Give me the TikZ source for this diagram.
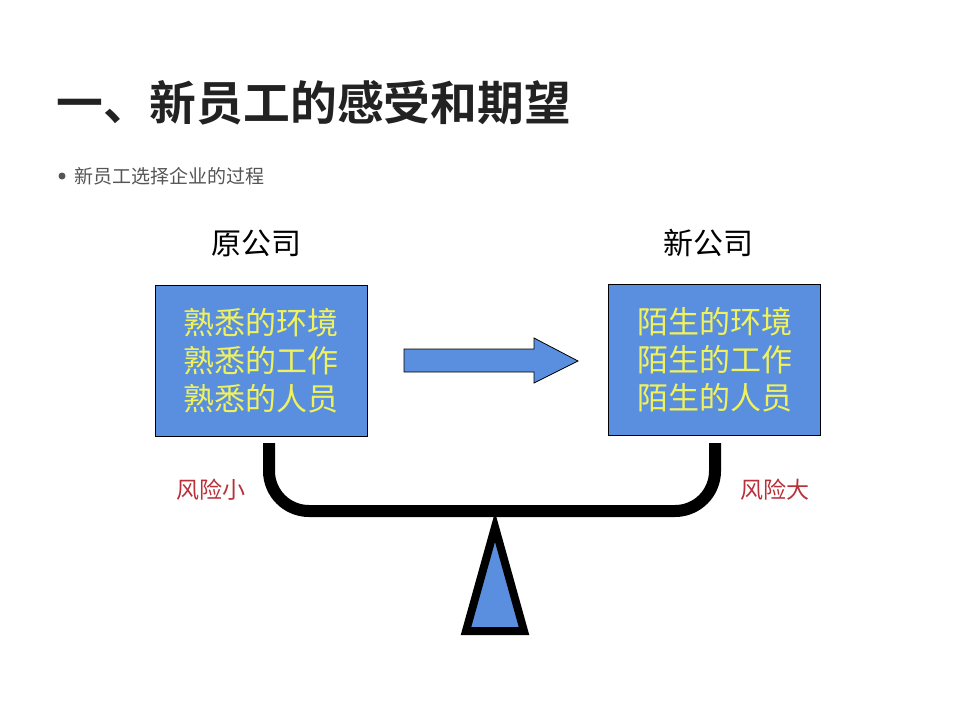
\documentclass[tikz,border=0pt]{standalone}
\usepackage{fontspec}
\setmainfont{Noto Sans CJK SC}
\newfontfamily\titlefont{Noto Sans CJK SC Bold}
\definecolor{boxblue}{HTML}{5A8EDE}
\definecolor{boxyellow}{HTML}{F0F25C}
\definecolor{riskred}{HTML}{B8313A}
\definecolor{titlegray}{HTML}{222222}
\definecolor{subgray}{HTML}{555555}
\tikzset{
  box/.style={draw=black, line width=0.8pt, fill=boxblue, minimum width=212, minimum height=151,
    align=center, text=boxyellow, font=\fontsize{31}{38}\selectfont, inner sep=0pt},
  head/.style={font=\fontsize{30}{30}\selectfont, text=black, inner sep=0pt},
  risk/.style={font=\fontsize{23}{23}\selectfont, text=riskred, inner sep=0pt},
}
\begin{document}
\begin{tikzpicture}[x=1pt,y=-1pt]
\useasboundingbox[fill=white] (0,0) rectangle (960,720);
% title
\node[anchor=west, inner sep=0pt, text=titlegray, font=\titlefont\fontsize{46.8}{46.8}\selectfont] (title) at (56,103) {一、新员工的感受和期望};
% bullet
\fill[subgray] (62,176) circle (3.5);
\node[anchor=west, inner sep=0pt, text=subgray, font=\fontsize{19}{19}\selectfont] (sub) at (74,176) {新员工选择企业的过程};
% headers
\node[head] (hold) at (256,243) {原公司};
\node[head] (hnew) at (708,243) {新公司};
% boxes
\node[box] (old) at (261,360.5) {熟悉的环境\\熟悉的工作\\熟悉的人员};
\node[box] (new) at (714.5,360) {陌生的环境\\陌生的工作\\陌生的人员};
% block arrow
\draw[fill=boxblue, line width=0.8pt, line join=miter] (404,349) -- (534,349) -- (534,338) -- (578,361) -- (534,383) -- (534,372) -- (404,372) -- cycle;
% balance beam
\coordinate (bl) at (269,443);
\coordinate (br) at (715,443);
\draw[line width=12, rounded corners=40] (bl) -- (269,511) -- (715,511) -- (br);
% fulcrum
\draw[line width=8, fill=boxblue, line join=miter] (495,527) -- (524,631) -- (466,631) -- cycle;
% risk labels
\node[risk] (rl) at (211,490) {风险小};
\node[risk] (rr) at (775,490) {风险大};
\end{tikzpicture}
\end{document}
